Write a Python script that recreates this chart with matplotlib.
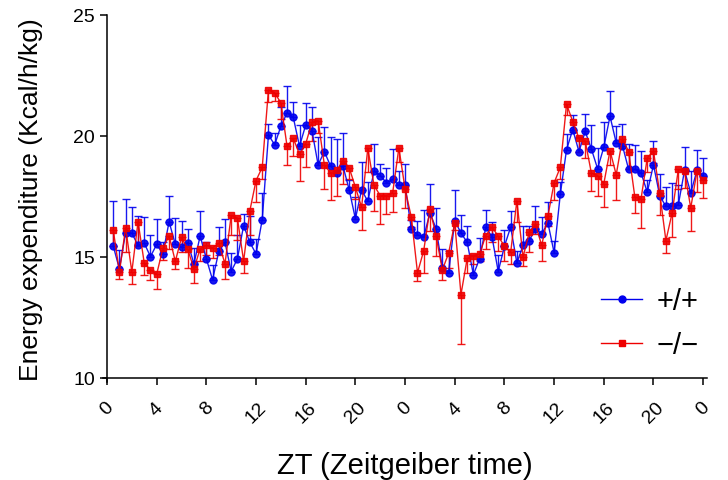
import numpy as np
import matplotlib
matplotlib.use("Agg")
import matplotlib.pyplot as plt
from matplotlib.lines import Line2D

plt.rcParams['font.family'] = ['Liberation Sans', 'DejaVu Sans']

# time points (hours), two consecutive days, every 30 min
zt = np.arange(1, 97) * 0.5

# +/+ (mean, SEM)
wt_mean = [15.45, 14.5, 16.0, 15.98, 15.47, 15.56, 15.01, 15.51, 15.12, 16.45,
           15.51, 15.4, 15.59, 14.71, 15.86, 14.92, 14.05, 15.22, 15.6, 14.39,
           14.92, 16.29, 15.6, 15.12, 16.54, 20.04, 19.63, 20.4, 20.95, 20.76,
           19.57, 20.45, 20.22, 18.8, 19.35, 18.75, 18.47, 18.75, 17.77, 16.57,
           17.77, 17.29, 18.54, 18.36, 18.06, 18.2, 17.95, 17.98, 16.14, 15.91,
           15.81, 16.82, 16.16, 14.55, 14.33, 16.5, 15.98, 15.6, 14.26, 14.92,
           16.23, 15.82, 14.39, 15.44, 16.23, 14.75, 15.47, 15.67, 16.16, 15.95,
           16.4, 15.17, 17.6, 19.43, 20.26, 19.35, 20.18, 19.46, 18.64, 19.53,
           20.81, 19.71, 19.6, 18.61, 18.61, 18.47, 17.67, 18.8, 17.53, 17.08,
           17.1, 17.15, 18.57, 17.64, 18.57, 18.33]
wt_sem = [1.85, 0.8, 1.4, 1.06, 1.2, 1.1, 0.9, 1.05, 0.5, 1.05,
          1.1, 1.1, 0.55, 0.65, 1.05, 0.7, 0.6, 1.0, 0.97, 0.78,
          1.0, 0.46, 1.1, 0.6, 1.1, 0.46, 0.5, 0.8, 1.13, 0.63,
          0.86, 0.9, 0.96, 1.15, 1.0, 1.2, 1.4, 1.37, 0.4, 0.9,
          1.14, 0.8, 1.13, 0.48, 0.6, 1.26, 0.6, 0.85, 0.4, 0.55,
          1.14, 1.2, 0.85, 0.78, 0.9, 1.27, 0.76, 0.67, 0.8, 0.85,
          0.72, 0.6, 0.7, 0.65, 0.68, 0.5, 0.82, 0.6, 0.96, 0.7,
          0.86, 0.5, 0.5, 0.65, 0.6, 0.6, 0.72, 0.97, 0.87, 1.04,
          1.06, 0.7, 0.9, 1.06, 1.0, 0.92, 0.5, 1.0, 0.9, 0.8,
          0.96, 0.8, 0.96, 0.9, 0.85, 0.76]

# -/- (mean, SEM)
ko_mean = [16.12, 14.37, 16.2, 14.38, 16.45, 14.74, 14.46, 14.28, 15.35, 15.87,
           14.81, 15.8, 15.32, 14.5, 15.33, 15.47, 15.37, 15.57, 14.71, 16.71,
           16.6, 14.82, 16.9, 18.15, 18.7, 21.9, 21.78, 21.36, 19.56, 19.9,
           19.23, 19.67, 20.56, 20.63, 18.8, 18.47, 18.57, 18.98, 18.68, 17.88,
           17.05, 19.49, 17.95, 17.53, 17.53, 17.64, 19.5, 17.81, 16.64, 14.34,
           15.25, 16.98, 15.85, 14.46, 15.14, 16.4, 13.44, 14.93, 15.05, 15.12,
           15.88, 16.23, 15.85, 15.44, 15.18, 17.31, 14.99, 16.02, 16.34, 15.47,
           16.68, 18.06, 18.7, 21.31, 20.59, 19.9, 19.8, 18.46, 18.36, 18.02,
           19.39, 18.39, 19.88, 19.35, 17.47, 17.4, 19.09, 19.37, 17.64, 15.67,
           16.81, 18.61, 18.54, 17.02, 18.53, 18.18]
ko_sem = [0.68, 0.3, 1.0, 0.5, 1.0, 0.5, 0.4, 0.6, 0.5, 0.55,
          0.3, 0.6, 0.8, 0.6, 0.5, 0.4, 0.4, 0.5, 0.62, 0.8,
          0.9, 0.48, 1.0, 0.87, 0.5, 0.5, 0.35, 0.65, 0.76, 0.75,
          1.08, 0.97, 0.76, 0.5, 1.0, 1.14, 1.04, 0.98, 0.46, 0.48,
          0.96, 1.0, 1.04, 1.17, 0.75, 0.8, 0.6, 0.8, 0.4, 0.32,
          0.9, 0.9, 0.82, 0.4, 0.6, 0.3, 2.04, 0.6, 0.35, 0.3,
          0.55, 0.6, 0.6, 0.6, 0.47, 0.88, 0.35, 0.83, 0.4, 0.65,
          0.4, 0.73, 0.5, 0.45, 0.45, 0.55, 0.7, 0.72, 0.83, 0.97,
          0.6, 1.03, 0.4, 0.71, 0.65, 1.2, 0.6, 0.5, 0.93, 0.5,
          1.0, 0.8, 0.7, 0.96, 0.86, 0.74]

xticks = np.arange(0, 49, 4)
xtick_labels = ['0', '4', '8', '12', '16', '20', '0', '4', '8', '12', '16', '20', '0']

fig = plt.figure(figsize=(7.28, 4.81), dpi=100)
ax = fig.add_axes([0.141, 0.204, 0.830, 0.763])

blue = '#0000ee'
red = '#ee0000'

# one-sided error bars: +/+ upwards, -/- downwards
ax.errorbar(zt, wt_mean, yerr=[np.zeros(96), wt_sem], color=blue, ecolor=blue,
            elinewidth=1, capsize=3, capthick=1, lw=1, marker='o', ms=5, alpha=0.9)
ax.errorbar(zt, ko_mean, yerr=[ko_sem, np.zeros(96)], color=red, ecolor=red,
            elinewidth=1, capsize=3, capthick=1, lw=1, marker='s', ms=5, alpha=0.9)

ax.set_xlim(-0.35, 48.3)
ax.set_ylim(9.83, 25)
ax.spines['left'].set_position(('data', 0))
ax.spines['bottom'].set_position(('data', 10))
ax.set_yticks([10, 15, 20, 25])
ax.set_xticks(xticks)
ax.set_xticklabels(xtick_labels, rotation=45, ha='center')
ax.tick_params(axis='both', direction='out', length=5, width=1.1, labelsize=14, colors='black')
ax.tick_params(axis='x', pad=10)

for s in ['top', 'right']:
    ax.spines[s].set_visible(False)
for s in ['left', 'bottom']:
    ax.spines[s].set_linewidth(1.1)

ax.set_xlabel('ZT (Zeitgeiber time)', fontsize=21, labelpad=18)
ax.set_ylabel('Energy expenditure (Kcal/h/kg)', fontsize=19, labelpad=22)

handles = [Line2D([], [], color=blue, lw=1, marker='o', ms=5),
           Line2D([], [], color=red, lw=1, marker='s', ms=5)]
ax.legend(handles, ['+/+', '\u2212/\u2212'], loc='lower right', bbox_to_anchor=(1.03, -0.01),
          frameon=False, fontsize=21, handlelength=1.4, handletextpad=0.5, labelspacing=0.55)

fig.savefig('out.png', dpi=100)
